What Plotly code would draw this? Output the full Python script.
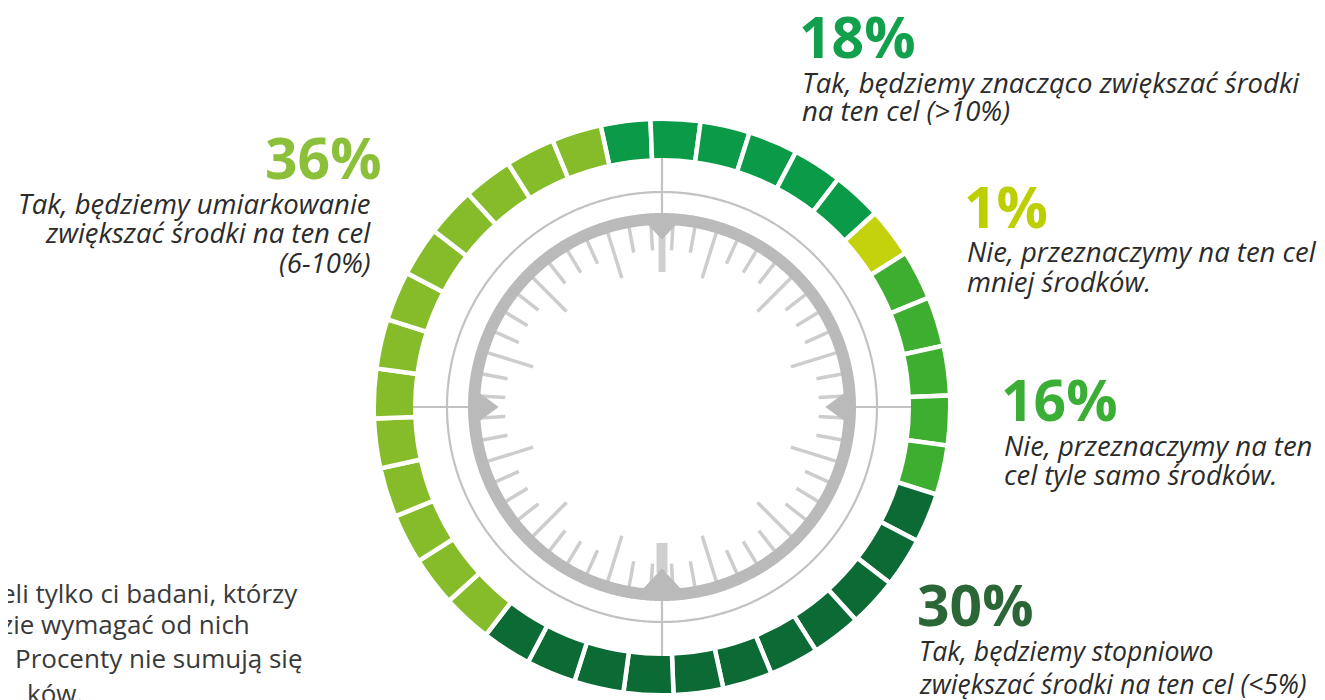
import numpy as np
import plotly.graph_objects as go

# ---------------- data ----------------
percent_labels = ["18%", "1%", "16%", "30%", "36%"]
label_lines = [
    ["Tak, będziemy znacząco zwiększać środki", "na ten cel (>10%)"],
    ["Nie, przeznaczymy na ten cel", "mniej środków."],
    ["Nie, przeznaczymy na ten", "cel tyle samo środków."],
    ["Tak, będziemy stopniowo", "zwiększać środki na ten cel (<5%)"],
    ["Tak, będziemy umiarkowanie", "zwiększać środki na ten cel", "(6-10%)"],
]
segment_counts = [6, 1, 5, 11, 13]          # ring segments per answer (clockwise from top)
seg_colors = ["#0b9a48", "#c3d20c", "#3dae2f", "#0c6b35", "#86bc29"]
pct_colors = ["#13a04c", "#bccf00", "#3aae35", "#2b6637", "#8cc03a"]
note_lines = ["eli tylko ci badani, którzy", "zie wymagać od nich",
              "Procenty nie sumują się", "ków."]

# ---------------- geometry ----------------
W, H = 1325, 700
OFF = 8                      # page body margin
CX, CY = 662 - OFF, 407 - OFF
RMAX = 290
R_IN, R_OUT = 249, 286
START = -12.3
GAP = 4.5

fig = go.Figure()

total = sum(segment_counts)
step = 360.0 / total
idx = 0
for n, col, lab in zip(segment_counts, seg_colors, percent_labels):
    thetas = [START + step * (idx + i + 0.5) for i in range(n)]
    idx += n
    fig.add_trace(go.Barpolar(
        theta=thetas, r=[R_OUT - R_IN + GAP] * n, base=[R_IN - GAP / 2] * n,
        width=[step] * n, marker=dict(color=col, line=dict(color="white", width=GAP)),
        name=lab, hoverinfo="skip", showlegend=False))

circ = np.linspace(0, 360, 721)
fig.add_trace(go.Scatterpolar(theta=circ, r=[215] * len(circ), mode="lines",
                              line=dict(color="#c2c2c2", width=2.2), hoverinfo="skip", showlegend=False))
th, rr = [], []
for a in [0, 90, 180, 270]:
    th += [a, a, None]
    rr += [194, R_IN, None]
fig.add_trace(go.Scatterpolar(theta=th, r=rr, mode="lines",
                              line=dict(color="#c2c2c2", width=2.2), hoverinfo="skip", showlegend=False))

tick_step = 360 / 52
th_s, r_s, th_l, r_l = [], [], [], []
for k in range(52):
    a = tick_step / 2 + tick_step * k
    if k % 13 in (2, 6, 10):
        th_l += [a, a, None]
        r_l += [183, 135, None]
    else:
        th_s += [a, a, None]
        r_s += [183, 157, None]
fig.add_trace(go.Scatterpolar(theta=th_s, r=r_s, mode="lines",
                              line=dict(color="#cdcdcd", width=3.5), hoverinfo="skip", showlegend=False))
fig.add_trace(go.Scatterpolar(theta=th_l, r=r_l, mode="lines",
                              line=dict(color="#cdcdcd", width=3.5), hoverinfo="skip", showlegend=False))

fig.add_trace(go.Scatterpolar(theta=[0, 0], r=[135, 172], mode="lines",
                              line=dict(color="#cfcfcf", width=7), hoverinfo="skip", showlegend=False))
fig.add_trace(go.Scatterpolar(theta=[180, 180], r=[136, 166], mode="lines",
                              line=dict(color="#cfcfcf", width=11), hoverinfo="skip", showlegend=False))

fig.add_trace(go.Scatterpolar(theta=circ, r=[188] * len(circ), mode="lines",
                              line=dict(color="#bababa", width=12), hoverinfo="skip", showlegend=False))

for a, half, apex in [(0, 5.0, 168), (90, 4.8, 164), (180, 6.5, 162), (270, 4.8, 164)]:
    fig.add_trace(go.Scatterpolar(theta=[a - half, a, a + half, a - half], r=[186, apex, 186, 186],
                                  mode="lines", fill="toself", fillcolor="#bababa",
                                  line=dict(color="#bababa", width=1), hoverinfo="skip", showlegend=False))

fig.update_layout(
    width=W, height=H, margin=dict(l=0, r=0, t=0, b=0),
    paper_bgcolor="white", plot_bgcolor="white",
    polar=dict(
        domain=dict(x=[(CX - RMAX) / W, (CX + RMAX) / W],
                    y=[(H - CY - RMAX) / H, (H - CY + RMAX) / H]),
        bgcolor="white",
        radialaxis=dict(range=[0, RMAX], visible=False, showgrid=False),
        angularaxis=dict(rotation=90, direction="clockwise", visible=False,
                         showgrid=False, showline=False, showticklabels=False, ticks=""),
        barmode="overlay",
    ),
)

ann = []
def add(text, x, y, size, color, anchor="left", bold=False, italic=False):
    t = text
    if bold:
        t = "<b>" + t + "</b>"
    if italic:
        t = "<i>" + t + "</i>"
    ann.append(dict(text=t, x=(x - OFF) / W, y=1 - (y - OFF) / H, xref="paper", yref="paper",
                    xanchor=anchor, yanchor="middle", showarrow=False,
                    font=dict(family="Open Sans", size=size, color=color)))

BIG = 57
TXT = "#2b2b2b"
pos = [
    (800, 36, "left", 800, [82, 111], 27.5),
    (965, 206, "left", 965, [252, 281], 27.5),
    (1002, 399, "left", 1002, [445, 474], 27.5),
    (918, 604, "left", 917, [651, 684], 26.6),
    (381, 157, "right", 373, [203, 233, 262], 27.5),
]
for (px, py, anc, lx, lys, bsz), lab, col, lines in zip(pos, percent_labels, pct_colors, label_lines):
    add(lab, px - (3 if anc == "left" else -3), py, BIG, col, anc, bold=True)
    for ln, ly in zip(lines, lys):
        add(ln, lx, ly, bsz, TXT, anc, italic=True)

for ln, x, y in zip(note_lines, [-1, -1, 13, 25], [593, 624, 658, 693]):
    add(ln, x, y, 26, "#3a3a3a", "left")

fig.update_layout(annotations=ann)
fig.write_html("out.html")
